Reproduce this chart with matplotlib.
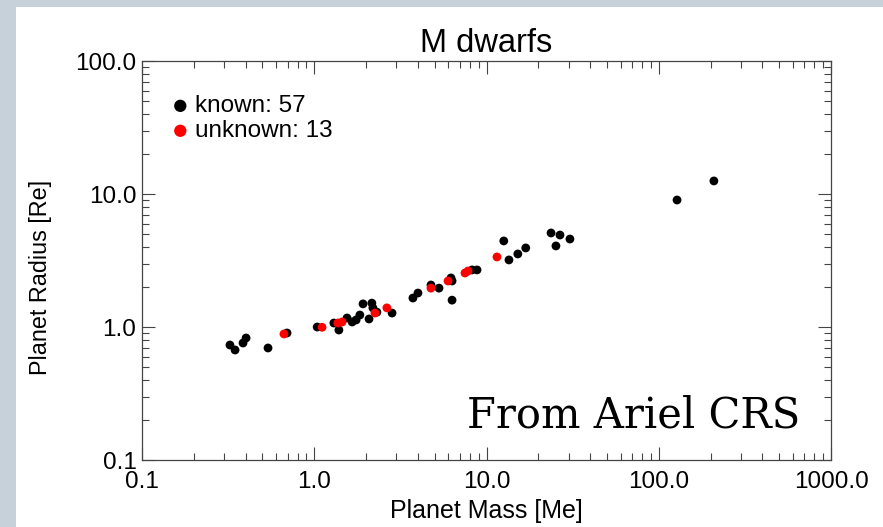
import matplotlib.pyplot as plt
from matplotlib.patches import Rectangle

# planet mass [Me] and radius [Re]
known_mass = [0.324, 0.347, 0.386, 0.402, 0.539, 0.695, 1.04, 1.30, 1.39, 1.55,
              1.66, 1.75, 1.84, 1.92, 2.16, 2.19, 2.31, 2.08, 2.83, 3.74,
              4.00, 4.76, 5.30, 6.22, 6.31, 6.31, 8.24, 8.81, 12.6, 13.5,
              15.2, 16.9, 23.7, 26.7, 25.3, 30.5, 127.7, 209.0]
known_radius = [0.736, 0.675, 0.762, 0.831, 0.699, 0.906, 1.005, 1.077, 0.954, 1.175,
                1.096, 1.135, 1.237, 1.50, 1.52, 1.40, 1.30, 1.155, 1.28, 1.66,
                1.81, 2.08, 1.97, 2.35, 2.23, 1.60, 2.70, 2.70, 4.46, 3.21,
                3.56, 3.95, 5.12, 4.94, 4.09, 4.61, 9.06, 12.6]
unknown_mass = [0.667, 1.11, 1.37, 1.45, 2.25, 2.64, 4.76, 5.98, 7.50, 7.81, 11.5]
unknown_radius = [0.891, 1.0, 1.077, 1.096, 1.28, 1.40, 1.97, 2.23, 2.56, 2.65, 3.38]

ticks = [0.1, 1.0, 10.0, 100.0, 1000.0]
xtick_labels = ["0.1", "1.0", "10.0", "100.0", "1000.0"]
ytick_labels = ["0.1", "1.0", "10.0", "100.0"]

plt.rcParams['font.family'] = ['Liberation Sans', 'DejaVu Sans']

fig = plt.figure(figsize=(8.83, 5.27), dpi=100, facecolor="#c6d1d9")
fig.patches.append(Rectangle((16/883, 0), 1, 520/527, transform=fig.transFigure,
                             facecolor="white", edgecolor="none", zorder=-10))

ax = fig.add_axes([142/883, 1 - 460.3/527, 689/883, 399/527])
ax.set_facecolor("white")

ax.scatter(known_mass, known_radius, s=40, color="black", edgecolors="none",
           label="known: 57", zorder=3)
ax.scatter(unknown_mass, unknown_radius, s=40, color="#ff0000", edgecolors="none",
           label="unknown: 13", zorder=4)

ax.set_xscale("log")
ax.set_yscale("log")
ax.set_xlim(0.1, 1000)
ax.set_ylim(0.1, 100)
ax.set_xticks(ticks, xtick_labels)
ax.set_yticks(ticks[:4], ytick_labels)

ax.tick_params(which="both", direction="in", top=True, right=True,
               color="#444444", width=0.8, labelsize=17.5)
ax.tick_params(which="major", length=9.5)
ax.tick_params(which="minor", length=4.8)
ax.tick_params(axis="x", which="major", pad=8)
ax.tick_params(axis="y", which="major", pad=4)
for sp in ax.spines.values():
    sp.set_color("#444444")
    sp.set_linewidth(0.9)

ax.set_title("M dwarfs", fontsize=23.5, pad=7)
ax.set_xlabel("Planet Mass [Me]", fontsize=18, labelpad=4)
ax.set_ylabel("Planet Radius [Re]", fontsize=16.8)
ax.yaxis.set_label_coords(-0.131, 0.459)

ax.legend(loc="upper left", frameon=False, fontsize=17.5, handletextpad=0.3,
          handlelength=0.6, borderaxespad=0.0, bbox_to_anchor=(0.045, 0.915),
          labelspacing=0.12, markerscale=1.4, borderpad=0.0)

ax.text(0.955, 0.083, "From Ariel CRS", transform=ax.transAxes, ha="right",
        va="baseline", fontsize=30, family="DejaVu Serif")

fig.savefig("out.png", dpi=100, facecolor=fig.get_facecolor())
